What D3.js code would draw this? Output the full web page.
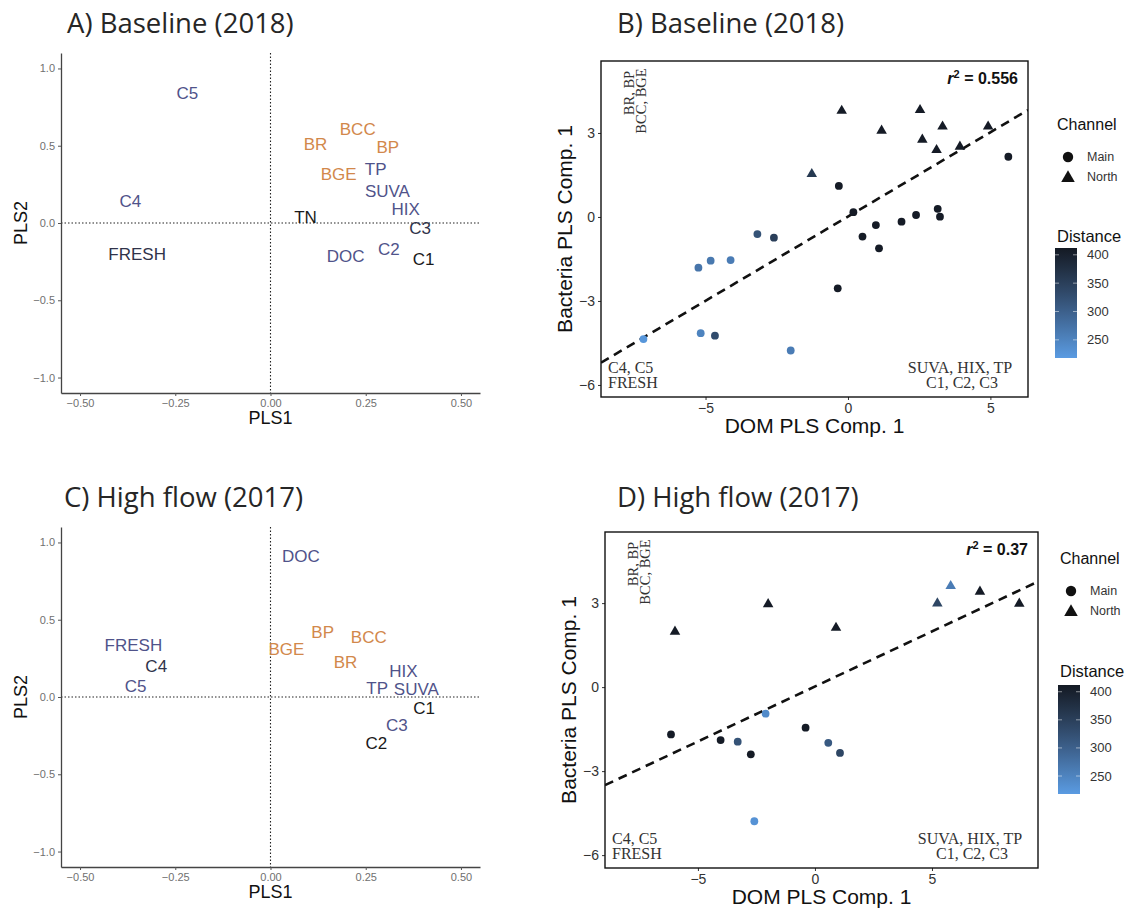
<!DOCTYPE html>
<html><head><meta charset="utf-8">
<script src="https://cdn.jsdelivr.net/npm/d3@7"></script>
<style>body{margin:0;background:#fff}</style>
</head><body>
<svg id="chart" width="1138" height="913"></svg>
<script>
// ---------- Panel A: loadings, Baseline (2018) ----------
const aLabels = ["C5","BCC","BR","BP","BGE","TP","SUVA","HIX","C3","TN","C4","FRESH","DOC","C2","C1"];
const aPLS1   = [-0.218,0.229,0.118,0.308,0.179,0.276,0.307,0.355,0.393,0.092,-0.368,-0.35,0.197,0.311,0.402];
const aPLS2   = [0.84,0.61,0.51,0.49,0.32,0.35,0.21,0.09,-0.03,0.04,0.14,-0.20,-0.21,-0.17,-0.23];
const aGroup  = ["dom","bact","bact","bact","bact","dom","dom","dom","mid","dark","dom","mid","dom","dom","dark"];

// ---------- Panel C: loadings, High flow (2017) ----------
const cLabels = ["DOC","FRESH","C4","C5","BP","BCC","BGE","BR","HIX","TP","SUVA","C1","C3","C2"];
const cPLS1   = [0.08,-0.36,-0.30,-0.354,0.137,0.258,0.042,0.197,0.349,0.28,0.383,0.403,0.332,0.278];
const cPLS2   = [0.91,0.34,0.20,0.07,0.42,0.39,0.31,0.23,0.17,0.056,0.05,-0.07,-0.18,-0.30];
const cGroup  = ["dom","dom","mid","dom","bact","bact","bact","bact","dom","dom","dom","dark","dom","dark"];

const loadTicksX = [-0.5,-0.25,0,0.25,0.5];
const loadTicksY = [-1,-0.5,0,0.5,1];

// ---------- Panel B: scores, Baseline (2018) ----------
const bDom  = [-0.22,2.53,1.18,3.32,4.92,2.61,3.11,3.93,-1.27, 5.63,-0.32,0.19,0.98,0.51,1.09,1.88,2.39,3.15,3.23,-0.36, -3.18,-2.60,-5.25,-4.82,-4.12,-7.18,-5.17,-4.67,-2.01];
const bBact = [3.82,3.85,3.11,3.26,3.26,2.79,2.42,2.54,1.56, 2.15,1.11,0.17,-0.29,-0.70,-1.12,-0.17,0.07,0.29,0.01,-2.55, -0.61,-0.74,-1.81,-1.56,-1.54,-4.36,-4.15,-4.24,-4.77];
const bChannel = ["North","North","North","North","North","North","North","North","North",
  "Main","Main","Main","Main","Main","Main","Main","Main","Main","Main","Main",
  "Main","Main","Main","Main","Main","Main","Main","Main","Main"];
const bDistance = [410,410,410,410,410,410,410,410,360, 410,410,410,410,410,410,410,410,410,410,410, 320,350,270,265,260,225,250,330,260];
const bFit = [0.602, 0.015];   // slope, intercept
const bR2 = "0.556";

// ---------- Panel D: scores, High flow (2017) ----------
const dDom  = [-5.98,-2.00,0.90,5.23,5.80,7.05,8.73, -6.15,-4.03,-3.30,-2.74,-2.11,-0.40,0.57,1.07,-2.59];
const dBact = [2.01,2.99,2.15,3.02,3.64,3.44,3.01, -1.69,-1.89,-1.95,-2.40,-0.95,-1.45,-1.99,-2.35,-4.79];
const dChannel = ["North","North","North","North","North","North","North",
  "Main","Main","Main","Main","Main","Main","Main","Main","Main"];
const dDistance = [410,410,410,340,260,410,410, 410,410,320,410,240,410,310,340,230];
const dFit = [0.393, 0.023];
const dR2 = "0.37";

const scoreTicksX = [-5,0,5];
const scoreTicksY = [-6,-3,0,3];
const distTicks = [250,300,350,400];
const distDomain = [218,412];
const channels = ["Main","North"];

const titles = ["A) Baseline (2018)","B) Baseline (2018)","C) High flow (2017)","D) High flow (2017)"];

// ---------- drawing ----------
const svg = d3.select("#chart");
const SANS = "'Liberation Sans', Arial, sans-serif";
const SERIF = "'Liberation Serif', 'Times New Roman', serif";
const groupColor = {dom:"#50538a", bact:"#d2884b", dark:"#1a1a1a", mid:"#30334a"};
const distColor = d3.scaleLinear().domain(distDomain).range(["#5a9be2","#141a24"]).interpolate(d3.interpolateLab);
const minus = d => String(d).replace("-", "\u2212");

// titles
[[67,33],[617,33],[64,507],[617,507]].forEach((p,i) => {
  svg.append("text").attr("x",p[0]).attr("y",p[1]).text(titles[i])
    .attr("font-family","'Open Sans', Lato, sans-serif").attr("font-size",27.5).attr("fill","#262626");
});

function loadingPanel(cfg, labels, px, py, groups) {
  const g = svg.append("g");
  const x = d3.scaleLinear().domain([-0.55,0.55]).range([cfg.left, cfg.right]);
  const y = d3.scaleLinear().domain([-1.1,1.1]).range([cfg.bottom, cfg.top]);
  // reference dotted lines
  g.append("line").attr("x1",x(0)).attr("x2",x(0)).attr("y1",cfg.top).attr("y2",cfg.bottom)
    .attr("stroke","#222").attr("stroke-width",1.1).attr("stroke-dasharray","1.5,2");
  g.append("line").attr("x1",cfg.left).attr("x2",cfg.right).attr("y1",y(0)).attr("y2",y(0))
    .attr("stroke","#222").attr("stroke-width",1.1).attr("stroke-dasharray","1.5,2");
  const ax = g.append("g").attr("transform",`translate(0,${cfg.bottom})`)
    .call(d3.axisBottom(x).tickValues(loadTicksX).tickSize(3).tickSizeOuter(0).tickFormat(d3.format(".2f")));
  const ay = g.append("g").attr("transform",`translate(${cfg.left},0)`)
    .call(d3.axisLeft(y).tickValues(loadTicksY).tickSize(3).tickSizeOuter(0).tickFormat(d3.format(".1f")));
  [ax,ay].forEach(a => {
    a.select(".domain").attr("stroke","#444").attr("stroke-width",1.3);
    a.selectAll(".tick line").attr("stroke","#555");
    a.selectAll("text").attr("font-family",SANS).attr("font-size",11).attr("fill","#707070");
  });
  g.selectAll(".lab").data(labels).enter().append("text")
    .attr("x",(d,i)=>x(px[i])).attr("y",(d,i)=>y(py[i])).attr("dy","0.36em")
    .attr("text-anchor","middle").attr("font-family",SANS).attr("font-size",17)
    .attr("fill",(d,i)=>groupColor[groups[i]]).text(d=>d);
  g.append("text").attr("x",(cfg.left+cfg.right)/2).attr("y",cfg.bottom+31).attr("text-anchor","middle")
    .attr("font-family",SANS).attr("font-size",18).attr("fill","#111").text("PLS1");
  g.append("text").attr("transform",`translate(27,${(cfg.top+cfg.bottom)/2}) rotate(-90)`).attr("text-anchor","middle")
    .attr("font-family",SANS).attr("font-size",18).attr("fill","#111").text("PLS2");
}

loadingPanel({left:61,right:480,top:53,bottom:393}, aLabels, aPLS1, aPLS2, aGroup);
loadingPanel({left:61,right:480,top:527,bottom:867}, cLabels, cPLS1, cPLS2, cGroup);

function scorePanel(cfg, xs, ys, chans, dists, fit, r2, id) {
  const g = svg.append("g");
  const x = d3.scaleLinear().domain(cfg.xDomain).range([cfg.left, cfg.right]);
  const y = d3.scaleLinear().domain(cfg.yDomain).range([cfg.bottom, cfg.top]);
  svg.append("clipPath").attr("id",id).append("rect")
    .attr("x",cfg.left).attr("y",cfg.top).attr("width",cfg.right-cfg.left).attr("height",cfg.bottom-cfg.top);
  const ax = g.append("g").attr("transform",`translate(0,${cfg.bottom})`)
    .call(d3.axisBottom(x).tickValues(scoreTicksX).tickSize(3).tickSizeOuter(0).tickFormat(minus));
  const ay = g.append("g").attr("transform",`translate(${cfg.left},0)`)
    .call(d3.axisLeft(y).tickValues(scoreTicksY).tickSize(3).tickSizeOuter(0).tickFormat(minus));
  [ax,ay].forEach(a => {
    a.select(".domain").remove();
    a.selectAll(".tick line").attr("stroke","#333");
    a.selectAll("text").attr("font-family",SANS).attr("font-size",14).attr("fill","#333");
  });
  const pg = g.append("g").attr("clip-path",`url(#${id})`);
  // fit line
  const [x0,x1] = cfg.xDomain;
  pg.append("line").attr("x1",x(x0)).attr("y1",y(fit[0]*x0+fit[1])).attr("x2",x(x1)).attr("y2",y(fit[0]*x1+fit[1]))
    .attr("stroke","#111").attr("stroke-width",2.6).attr("stroke-dasharray","9,6");
  const tri = d3.symbol().type(d3.symbolTriangle).size(48);
  xs.forEach((v,i) => {
    if (chans[i] === "Main") {
      pg.append("circle").attr("cx",x(v)).attr("cy",y(ys[i])).attr("r",3.9).attr("fill",distColor(dists[i]));
    } else {
      pg.append("path").attr("d",tri).attr("transform",`translate(${x(v)},${y(ys[i])+0.8})`).attr("fill",distColor(dists[i]));
    }
  });
  // border
  g.append("rect").attr("x",cfg.left).attr("y",cfg.top).attr("width",cfg.right-cfg.left).attr("height",cfg.bottom-cfg.top)
    .attr("fill","none").attr("stroke","#111").attr("stroke-width",1.4);
  // annotations
  const L = cfg.left, R = cfg.right, T = cfg.top, B = cfg.bottom;
  g.append("text").attr("transform",`translate(${L+33},${T+32}) rotate(-90)`).attr("text-anchor","middle")
    .attr("font-family",SERIF).attr("font-size",14.5).attr("fill","#333").text("BR, BP");
  g.append("text").attr("transform",`translate(${L+45},${T+40}) rotate(-90)`).attr("text-anchor","middle")
    .attr("font-family",SERIF).attr("font-size",14.5).attr("fill","#333").text("BCC, BGE");
  g.append("text").attr("x",L+7).attr("y",B-24).attr("font-family",SERIF).attr("font-size",16).attr("fill","#333").text("C4, C5");
  g.append("text").attr("x",L+7).attr("y",B-9).attr("font-family",SERIF).attr("font-size",16).attr("fill","#333").text("FRESH");
  g.append("text").attr("x",R-68).attr("y",B-24).attr("text-anchor","middle").attr("font-family",SERIF).attr("font-size",16).attr("fill","#333").text("SUVA, HIX, TP");
  g.append("text").attr("x",R-66).attr("y",B-9).attr("text-anchor","middle").attr("font-family",SERIF).attr("font-size",16).attr("fill","#333").text("C1, C2, C3");
  const rt = g.append("text").attr("x",R-10).attr("y",T+23).attr("text-anchor","end")
    .attr("font-family",SANS).attr("font-size",16).attr("font-weight","bold").attr("fill","#111");
  rt.append("tspan").attr("font-style","italic").text("r");
  rt.append("tspan").attr("font-size",11).attr("dy",-6).text("2");
  rt.append("tspan").attr("dy",6).text(" = " + r2);
  // axis titles
  g.append("text").attr("x",(L+R)/2).attr("y",B+36).attr("text-anchor","middle")
    .attr("font-family",SANS).attr("font-size",21).attr("fill","#111").text("DOM PLS Comp. 1");
  g.append("text").attr("transform",`translate(${L-29},${(T+B)/2}) rotate(-90)`).attr("text-anchor","middle")
    .attr("font-family",SANS).attr("font-size",21).attr("fill","#111").text("Bacteria PLS Comp. 1");
}

scorePanel({left:601,right:1028,top:61,bottom:397,xDomain:[-8.67,6.32],yDomain:[-6.43,5.57]},
  bDom,bBact,bChannel,bDistance,bFit,bR2,"clipB");
scorePanel({left:605,right:1038,top:532,bottom:868,xDomain:[-8.97,9.53],yDomain:[-6.46,5.54]},
  dDom,dBact,dChannel,dDistance,dFit,dR2,"clipD");

function legend(cfg, id) {
  const g = svg.append("g");
  g.append("text").attr("x",cfg.x).attr("y",cfg.chanY).attr("font-family",SANS).attr("font-size",16).attr("fill","#111").text("Channel");
  channels.forEach((c,i) => {
    const yy = cfg.chanY + 27 + i*20;
    if (c === "Main") g.append("circle").attr("cx",cfg.x+11).attr("cy",yy).attr("r",5.2).attr("fill","#111");
    else g.append("path").attr("d",d3.symbol().type(d3.symbolTriangle).size(80)).attr("transform",`translate(${cfg.x+11},${yy+1})`).attr("fill","#111");
    g.append("text").attr("x",cfg.x+30).attr("y",yy).attr("dy","0.35em").attr("font-family",SANS).attr("font-size",12.5).attr("fill","#333").text(c);
  });
  g.append("text").attr("x",cfg.x).attr("y",cfg.distY).attr("font-family",SANS).attr("font-size",16.5).attr("fill","#111").text("Distance");
  const ys = d3.scaleLinear().domain(distDomain).range([cfg.barBottom, cfg.barTop]);
  const grad = svg.append("defs").append("linearGradient").attr("id",id).attr("x1",0).attr("x2",0).attr("y1",1).attr("y2",0);
  d3.range(0,1.0001,0.1).forEach(t => {
    grad.append("stop").attr("offset",t).attr("stop-color",distColor(distDomain[0]+t*(distDomain[1]-distDomain[0])));
  });
  g.append("rect").attr("x",cfg.x-2).attr("y",cfg.barTop).attr("width",22).attr("height",cfg.barBottom-cfg.barTop).attr("fill",`url(#${id})`);
  distTicks.forEach(v => {
    g.append("line").attr("x1",cfg.x-2).attr("x2",cfg.x+2).attr("y1",ys(v)).attr("y2",ys(v)).attr("stroke","#fff").attr("stroke-opacity",0.5);
    g.append("line").attr("x1",cfg.x+16).attr("x2",cfg.x+20).attr("y1",ys(v)).attr("y2",ys(v)).attr("stroke","#fff").attr("stroke-opacity",0.5);
    g.append("text").attr("x",cfg.x+30).attr("y",ys(v)).attr("dy","0.35em").attr("font-family",SANS).attr("font-size",13).attr("fill","#333").text(v);
  });
}
legend({x:1057, chanY:130, distY:242, barTop:248, barBottom:358}, "gradB");
legend({x:1060, chanY:564, distY:677, barTop:685, barBottom:794}, "gradD");
</script>
</body></html>
